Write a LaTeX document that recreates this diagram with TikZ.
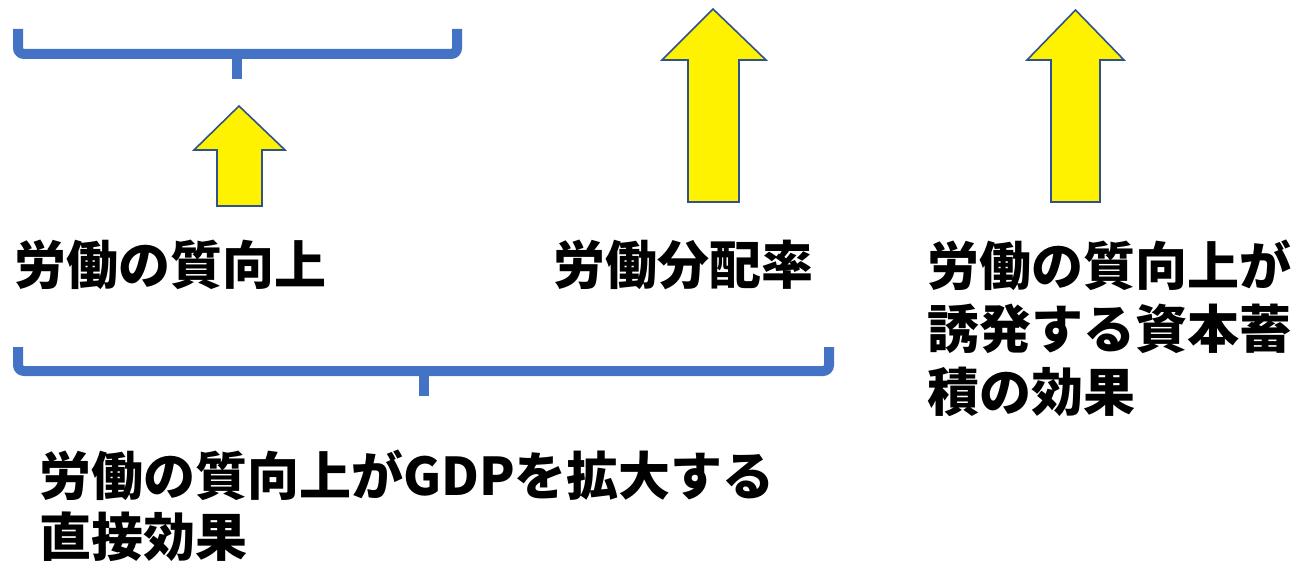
\documentclass[tikz,border=0pt]{standalone}
\usepackage{fontspec}
\newfontfamily\jp{Noto Sans CJK JP}
\definecolor{braceblue}{HTML}{4472C4}
\definecolor{arrowline}{HTML}{2F528F}
\begin{document}
\begin{tikzpicture}[x=1pt,y=-1pt,
  bracestyle/.style={draw=braceblue,line width=10pt,rounded corners=6pt},
  ticks/.style={draw=braceblue,line width=10pt},
  blockarrow/.style={draw=arrowline,fill=yellow,line width=1.6pt,line join=miter},
  label/.style={inner sep=0pt,anchor=north west,align=left,font=\jp\bfseries\fontsize{52}{63}\selectfont}]
\useasboundingbox (0,0) rectangle (1313,561);
% top brace
\draw[bracestyle] (18,29) -- (18,54) -- (457,54) -- (457,29);
\draw[ticks] (237,54) -- (237,79);
% bottom brace
\draw[bracestyle] (18,347) -- (18,371) -- (829,371) -- (829,347);
\draw[ticks] (424,371) -- (424,396);
% arrows
\draw[blockarrow] (239,106) -- (285,150) -- (262,150) -- (262,206) -- (217,206) -- (217,150) -- (194,150) -- cycle;
\draw[blockarrow] (713,9) -- (766,60) -- (739,60) -- (739,202) -- (688,202) -- (688,60) -- (662,60) -- cycle;
\draw[blockarrow] (1075.5,10) -- (1124,60) -- (1100,60) -- (1100,202) -- (1051,202) -- (1051,60) -- (1027,60) -- cycle;
% labels
\node[label] (q) at (14,240) {労働の質向上};
\node[label] (r) at (553,240) {労働分配率};
\node[label] (k) at (927,240) {労働の質向上が\\誘発する資本蓄\\積の効果};
\node[label,font=\jp\bfseries\fontsize{52}{61}\selectfont] (d) at (39,450) {労働の質向上がGDPを拡大する\\直接効果};
\end{tikzpicture}
\end{document}
